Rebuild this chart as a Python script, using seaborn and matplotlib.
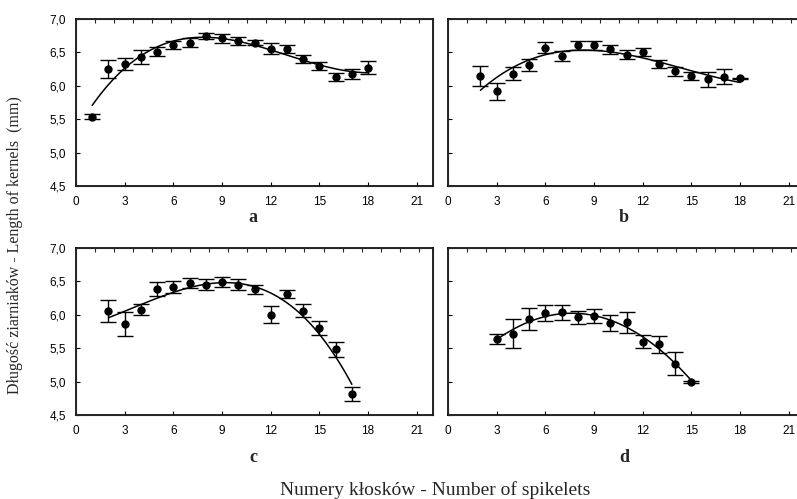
import matplotlib
matplotlib.use("Agg")
import matplotlib.pyplot as plt
import seaborn as sns
import numpy as np
import pandas as pd
from matplotlib.ticker import FuncFormatter, MultipleLocator

sns.set_style("ticks")
plt.rcParams['font.family'] = ['Liberation Sans', 'DejaVu Sans']

# panel a
a_x = [1, 2, 3, 4, 5, 6, 7, 8, 9, 10, 11, 12, 13, 14, 15, 16, 17, 18]
a_y = [5.54, 6.25, 6.33, 6.43, 6.51, 6.61, 6.645, 6.745, 6.71, 6.675, 6.645, 6.555, 6.55, 6.395, 6.295, 6.135, 6.175, 6.27]
a_err = [0.04, 0.14, 0.09, 0.10, 0.07, 0.06, 0.07, 0.05, 0.07, 0.06, 0.04, 0.08, 0.06, 0.06, 0.06, 0.06, 0.07, 0.10]

# panel b
b_x = [2, 3, 4, 5, 6, 7, 8, 9, 10, 11, 12, 13, 14, 15, 16, 17, 18]
b_y = [6.15, 5.915, 6.18, 6.315, 6.57, 6.445, 6.605, 6.605, 6.545, 6.465, 6.51, 6.33, 6.215, 6.15, 6.095, 6.135, 6.11]
b_err = [0.15, 0.125, 0.10, 0.09, 0.08, 0.08, 0.065, 0.07, 0.07, 0.07, 0.06, 0.06, 0.07, 0.06, 0.11, 0.11, 0.01]

# panel c
c_x = [2, 3, 4, 5, 6, 7, 8, 9, 10, 11, 12, 13, 14, 15, 16, 17]
c_y = [6.06, 5.86, 6.075, 6.38, 6.415, 6.475, 6.45, 6.49, 6.45, 6.38, 6.0, 6.31, 6.06, 5.8, 5.485, 4.815]
c_err = [0.165, 0.175, 0.085, 0.105, 0.09, 0.075, 0.08, 0.075, 0.08, 0.07, 0.13, 0.065, 0.10, 0.10, 0.11, 0.11]

# panel d
d_x = [3, 4, 5, 6, 7, 8, 9, 10, 11, 12, 13, 14, 15]
d_y = [5.64, 5.72, 5.94, 6.02, 6.035, 5.96, 5.98, 5.88, 5.885, 5.6, 5.56, 5.27, 4.995]
d_err = [0.07, 0.215, 0.165, 0.12, 0.115, 0.095, 0.105, 0.12, 0.16, 0.10, 0.13, 0.175, 0.01]

panels = [
    ('a', a_x, a_y, a_err, 3),
    ('b', b_x, b_y, b_err, 3),
    ('c', c_x, c_y, c_err, 3),
    ('d', d_x, d_y, d_err, 3),
]

W, H = 797, 499
fig = plt.figure(figsize=(W / 100, H / 100), dpi=100)

# axes boxes in pixels: left, top, width, height
boxes = [(76, 19, 357, 167), (448, 19, 357, 167),
         (76, 248, 357, 167), (448, 248, 357, 167)]
label_xy = [(253, 217), (624, 217), (253, 458), (624, 458)]

comma = FuncFormatter(lambda v, p: f'{v:.1f}'.replace('.', ','))

for i, (name, xs, ys, errs, order) in enumerate(panels):
    l, t, w, h = boxes[i]
    ax = fig.add_axes([l / W, 1 - (t + h) / H, w / W, h / H])
    df = pd.DataFrame({'x': xs, 'y': ys})
    sns.regplot(data=df, x='x', y='y', order=order, ci=None, scatter=False,
                color='black', line_kws={'lw': 1.1}, ax=ax)
    ax.errorbar(xs, ys, yerr=errs, fmt='o', color='black', ms=5,
                elinewidth=1, capsize=6, capthick=1)
    ax.set_xlim(0, 22)
    ax.set_ylim(4.5, 7.0)
    ax.xaxis.set_major_locator(MultipleLocator(3))
    ax.yaxis.set_major_locator(MultipleLocator(0.5))
    ax.yaxis.set_major_formatter(comma)
    ax.set_xlabel('')
    ax.set_ylabel('')
    ax.tick_params(direction='in', length=3, width=0.8, labelsize=8.5,
                   colors='black')
    ax.tick_params(axis='x', pad=7)
    ax.tick_params(axis='y', pad=7)
    if i % 2 == 1:
        ax.tick_params(axis='y', labelleft=False)
    for s in ax.spines.values():
        s.set_visible(True)
        s.set_linewidth(1.2)
        s.set_color('black')
    # top axis ticks
    top = ax.twiny()
    top.set_xlim(0, 18.75)
    top.set_xticks(range(1, 19))
    top.tick_params(axis='x', direction='in', length=3, width=0.8, labeltop=False)
    lx, ly = label_xy[i]
    fig.text(lx / W, 1 - ly / H, name, ha='center', va='center', fontsize=13,
             fontweight='bold', family=['Liberation Serif', 'DejaVu Serif'])

fig.text(435 / W, 1 - 490 / H, 'Numery kłosków - Number of spikelets',
         ha='center', va='center', fontsize=14,
         family=['Liberation Serif', 'DejaVu Serif'])
fig.text(15 / W, 1 - 245 / H, 'Długość ziarniaków - Length of kernels  (mm)',
         ha='center', va='center', rotation=90, fontsize=11.5,
         family=['Liberation Serif', 'DejaVu Serif'])

fig.savefig('out.png', dpi=100)
